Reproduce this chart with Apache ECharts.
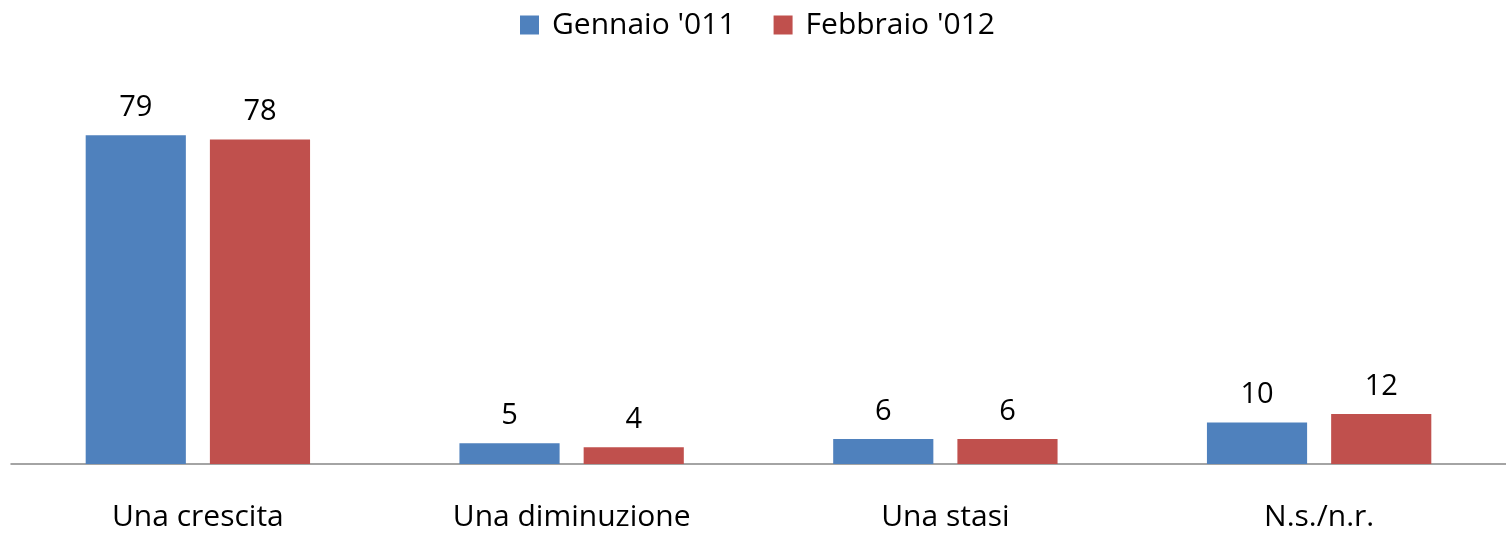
<!DOCTYPE html>
<html>
<head>
<meta charset="utf-8">
<script src="https://cdn.jsdelivr.net/npm/echarts@6/dist/echarts.min.js"></script>
<style>
  html, body { margin: 0; padding: 0; background: #fff; }
  #chart { width: 1506px; height: 539px; }
</style>
</head>
<body>
<div id="chart"></div>
<script>
const categories = ["Una crescita", "Una diminuzione", "Una stasi", "N.s./n.r."];
const gennaio = [79, 5, 6, 10];
const febbraio = [78, 4, 6, 12];
const seriesNames = ["Gennaio '011", "Febbraio '012"];

const FONT = "Open Sans";
const myChart = echarts.init(document.getElementById("chart"));

const labelStyle = {
  show: true,
  position: "top",
  distance: 13,
  fontFamily: FONT,
  fontSize: 29,
  color: "#000",
};

const option = {
  animation: false,
  legend: {
    top: 5,
    left: 515,
    itemWidth: 19,
    itemHeight: 19,
    itemGap: 38,
    icon: "rect",
    textStyle: { fontFamily: FONT, fontSize: 30, color: "#000", padding: [0, 0, 0, 8] },
    data: seriesNames,
  },
  grid: {
    left: 11,
    right: 0,
    top: 48,
    bottom: 75,
  },
  xAxis: {
    type: "category",
    data: categories,
    axisLine: { lineStyle: { color: "#868686", width: 1.5 } },
    axisTick: { show: false },
    axisLabel: {
      margin: 38,
      fontFamily: FONT,
      fontSize: 30,
      color: "#000",
    },
  },
  yAxis: {
    type: "value",
    min: 0,
    max: 100,
    show: false,
    splitLine: { show: false },
  },
  series: [
    {
      name: seriesNames[0],
      type: "bar",
      data: gennaio,
      barWidth: "26.8%",
      barGap: "24%",
      itemStyle: { color: "#4F81BD" },
      label: labelStyle,
    },
    {
      name: seriesNames[1],
      type: "bar",
      data: febbraio,
      barWidth: "26.8%",
      itemStyle: { color: "#C0504D" },
      label: labelStyle,
    },
  ],
};

myChart.setOption(option);
</script>
</body>
</html>
